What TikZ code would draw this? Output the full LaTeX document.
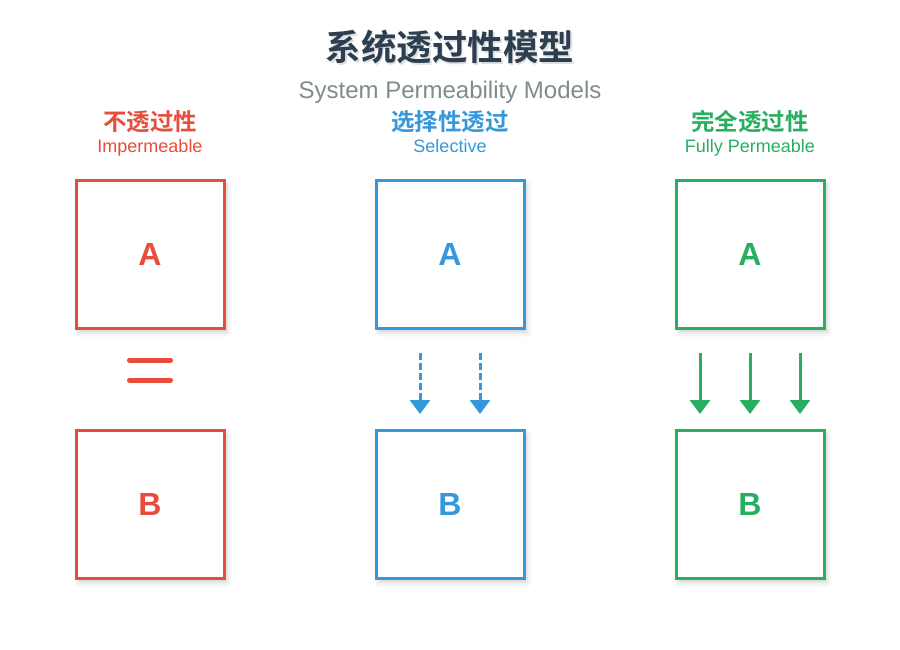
\documentclass[tikz,border=0pt]{standalone}
\usepackage{fontspec}
\setmainfont{Liberation Sans}
\newfontfamily\cjk{Noto Sans CJK SC}[BoldFont={* Bold}]
\usetikzlibrary{arrows.meta,shadows.blur}
\definecolor{cred}{HTML}{E74C3C}
\definecolor{cblue}{HTML}{3498DB}
\definecolor{cgreen}{HTML}{27AE60}
\definecolor{ctitle}{HTML}{2C3E50}
\definecolor{csub}{HTML}{7F8C8D}
\tikzset{
  sysbox/.style={draw=#1, line width=3pt, fill=white, minimum size=148pt, inner sep=0pt,
    text=#1, font=\bfseries\fontsize{32}{36}\selectfont,
    blur shadow={shadow xshift=3pt, shadow yshift=-4pt, shadow blur radius=5pt, shadow opacity=18}},
  headcn/.style={text=#1, font=\cjk\bfseries\fontsize{23.5}{26}\selectfont},
  headen/.style={text=#1, anchor=base, font=\fontsize{18}{20}\selectfont},
  flowarrow/.style={draw=#1, line width=3pt, -{Triangle[width=20pt,length=14pt]}},
}
\begin{document}
\begin{tikzpicture}[x=1pt,y=-1pt]
\useasboundingbox (0,0) rectangle (900,650);
% title
\node[text=black!30, opacity=0.4, font=\cjk\bfseries\fontsize{35.5}{40}\selectfont] at (451.5,49.5) {系统透过性模型};
\node (title) [text=ctitle, font=\cjk\bfseries\fontsize{35.5}{40}\selectfont] at (450,47) {系统透过性模型};
\node (sub) [text=csub, anchor=base, font=\fontsize{24}{28}\selectfont] at (450,99) {System Permeability Models};
% headers
\node (h1) [headcn=cred] at (150,122) {不透过性};
\node (e1) [headen=cred] at (150,152.5) {Impermeable};
\node (h2) [headcn=cblue] at (450,122) {选择性透过};
\node (e2) [headen=cblue] at (450,152.5) {Selective};
\node (h3) [headcn=cgreen] at (750,122) {完全透过性};
\node (e3) [headen=cgreen] at (750,152.5) {Fully Permeable};
% boxes
\node (a1) [sysbox=cred] at (150,254.5) {A};
\node (b1) [sysbox=cred] at (150,504.5) {B};
\node (a2) [sysbox=cblue] at (450,254.5) {A};
\node (b2) [sysbox=cblue] at (450,504.5) {B};
\node (a3) [sysbox=cgreen] at (750,254.5) {A};
\node (b3) [sysbox=cgreen] at (750,504.5) {B};
% equal sign (barrier)
\coordinate (q1) at (129.5,360); \coordinate (q2) at (170.5,360);
\coordinate (q3) at (129.5,380); \coordinate (q4) at (170.5,380);
\draw[cred, line width=5pt, line cap=round] (q1) -- (q2);
\draw[cred, line width=5pt, line cap=round] (q3) -- (q4);
% selective arrows
\coordinate (s1) at (420,353); \coordinate (t1) at (420,414);
\coordinate (s2) at (480,353); \coordinate (t2) at (480,414);
\draw[flowarrow=cblue, dash pattern=on 7pt off 3pt] (s1) -- (t1);
\draw[flowarrow=cblue, dash pattern=on 7pt off 3pt] (s2) -- (t2);
% full arrows
\coordinate (f1) at (700,353); \coordinate (g1) at (700,414);
\coordinate (f2) at (750,353); \coordinate (g2) at (750,414);
\coordinate (f3) at (800,353); \coordinate (g3) at (800,414);
\draw[flowarrow=cgreen] (f1) -- (g1);
\draw[flowarrow=cgreen] (f2) -- (g2);
\draw[flowarrow=cgreen] (f3) -- (g3);
\end{tikzpicture}
\end{document}
